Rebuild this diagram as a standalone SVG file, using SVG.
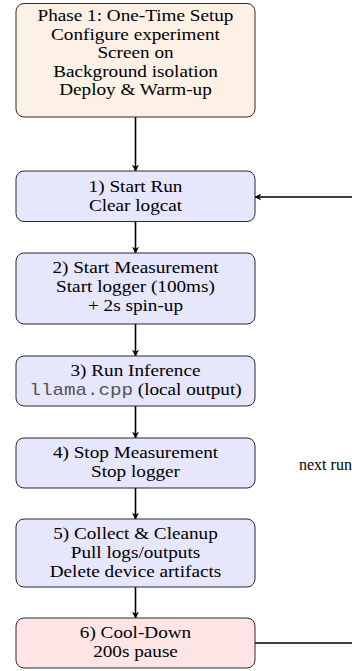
<svg xmlns="http://www.w3.org/2000/svg" width="352" height="671" viewBox="0 0 352 671">
<defs>
<style>
.box{stroke:#2b2b2b;stroke-width:1}
.ph{fill:#fdf0e5}
.st{fill:#e6e6fc}
.cd{fill:#fde5e6}
text{font-family:"Liberation Serif","Times New Roman",serif;font-size:16px;fill:#000;text-anchor:middle}
.mono{font-family:"Liberation Mono","Courier New",monospace;fill:#555}
.edge{stroke:#000;stroke-width:1.6;fill:none}
</style>
<marker id="ah" viewBox="0 0 10 10" refX="9" refY="5" markerWidth="7" markerHeight="7" orient="auto" markerUnits="userSpaceOnUse">
<path d="M0,0 L10,5 L0,10 L3,5 Z" fill="#000"/>
</marker>
</defs>
<g id="edges">
<path class="edge" d="M135.5,117 V171" marker-end="url(#ah)"/>
<path class="edge" d="M135.5,221.5 V253" marker-end="url(#ah)"/>
<path class="edge" d="M135.5,324 V356" marker-end="url(#ah)"/>
<path class="edge" d="M135.5,406 V438" marker-end="url(#ah)"/>
<path class="edge" d="M135.5,488 V519" marker-end="url(#ah)"/>
<path class="edge" d="M135.5,587 V618" marker-end="url(#ah)"/>
<path class="edge" d="M255,643 H360 V197 H255" marker-end="url(#ah)"/>
<text x="299" y="470" style="text-anchor:start">next run</text>
</g>
<g id="phase1">
<rect class="box ph" x="16" y="3.5" width="239" height="113.5" rx="8"/>
<g transform="translate(135.5 0) scale(1.2 1)">
<text x="0" y="21.5">Phase 1: One-Time Setup</text>
<text x="0" y="40">Configure experiment</text>
<text x="0" y="58.5">Screen on</text>
<text x="0" y="77">Background isolation</text>
<text x="0" y="95.5">Deploy &amp; Warm-up</text>
</g>
</g>
<g id="step1">
<rect class="box st" x="16" y="171" width="239" height="50.5" rx="8"/>
<g transform="translate(135.5 0) scale(1.2 1)">
<text x="0" y="192">1) Start Run</text>
<text x="0" y="211">Clear logcat</text>
</g>
</g>
<g id="step2">
<rect class="box st" x="16" y="253" width="239" height="71" rx="8"/>
<g transform="translate(135.5 0) scale(1.2 1)">
<text x="0" y="273">2) Start Measurement</text>
<text x="0" y="292">Start logger (100ms)</text>
<text x="0" y="311">+ 2s spin-up</text>
</g>
</g>
<g id="step3">
<rect class="box st" x="16" y="356" width="239" height="50" rx="8"/>
<g transform="translate(135.5 0) scale(1.2 1)">
<text x="0" y="376.5">3) Run Inference</text>
<text x="0" y="395.5"><tspan class="mono">llama.cpp</tspan> (local output)</text>
</g>
</g>
<g id="step4">
<rect class="box st" x="16" y="438" width="239" height="50" rx="8"/>
<g transform="translate(135.5 0) scale(1.2 1)">
<text x="0" y="458.5">4) Stop Measurement</text>
<text x="0" y="477.5">Stop logger</text>
</g>
</g>
<g id="step5">
<rect class="box st" x="16" y="519" width="239" height="68" rx="8"/>
<g transform="translate(135.5 0) scale(1.2 1)">
<text x="0" y="539">5) Collect &amp; Cleanup</text>
<text x="0" y="558">Pull logs/outputs</text>
<text x="0" y="577">Delete device artifacts</text>
</g>
</g>
<g id="step6">
<rect class="box cd" x="16" y="618" width="239" height="50" rx="8"/>
<g transform="translate(135.5 0) scale(1.2 1)">
<text x="0" y="638.5">6) Cool-Down</text>
<text x="0" y="657.5">200s pause</text>
</g>
</g>
</svg>
